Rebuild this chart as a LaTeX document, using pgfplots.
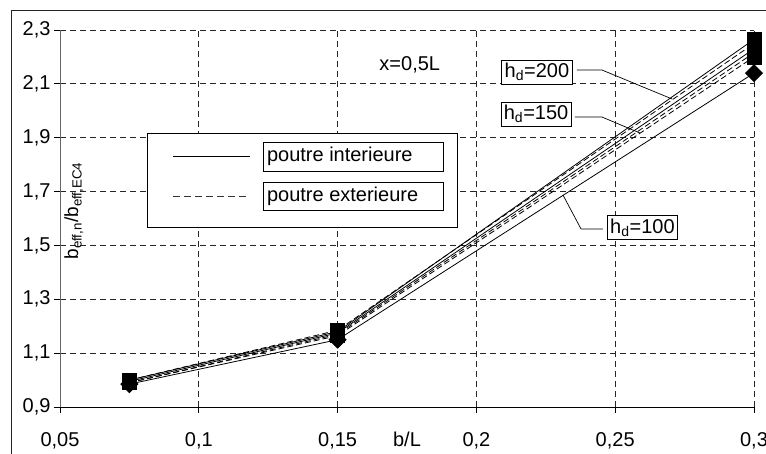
\documentclass[border=0pt]{standalone}
\usepackage{fontspec}
\setmainfont{Liberation Sans}
\usepackage{pgfplots}
\pgfplotsset{compat=1.18}
\newcommand{\bigf}{\fontsize{20}{24}\selectfont}
\begin{document}
\begin{tikzpicture}[x=1pt,y=1pt]
\useasboundingbox (0,0) rectangle (766,454);
\draw[line width=1pt, black!85] (11,443) rectangle (790,-20);
\begin{axis}[
  at={(60pt,47pt)}, anchor=south west,
  scale only axis, width=694pt, height=377pt,
  xmin=0.05, xmax=0.3, ymin=0.9, ymax=2.3,
  xtick={0.05,0.1,0.15,0.2,0.25,0.3},
  ytick={0.9,1.1,1.3,1.5,1.7,1.9,2.1,2.3},
  xticklabels={0{,}05,0{,}1,0{,}15,0{,}2,0{,}25,0{,}3},
  yticklabels={0{,}9,1{,}1,1{,}3,1{,}5,1{,}7,1{,}9,2{,}1,2{,}3},
  axis x line*=bottom, axis y line*=left,
  x axis line style={black, line width=0.8pt, -},
  y axis line style={black!60, line width=1pt, -},
  tick align=outside, major tick length=6pt,
  tick style={black, line width=0.8pt},
  grid=major,
  major grid style={black!85, line width=0.7pt, dash pattern=on 5.5pt off 4.5pt},
  xticklabel style={font=\bigf, yshift=-16pt},
  yticklabel style={font=\bigf},
  clip=false,
]
% hd=200
\addplot[black, line width=0.8pt, mark=square*, mark size=7pt, mark options={solid}] coordinates {(0.075,1.0) (0.15,1.18) (0.3,2.265)};
\addplot[black, line width=0.8pt, dash pattern=on 6pt off 3pt, mark=square*, mark size=7pt, mark options={solid}] coordinates {(0.075,1.0) (0.15,1.185) (0.3,2.25)};
% hd=150
\addplot[black, line width=0.8pt, mark=square*, mark size=7pt, mark options={solid}] coordinates {(0.075,0.995) (0.15,1.175) (0.3,2.23)};
\addplot[black, line width=0.8pt, dash pattern=on 6pt off 3pt, mark=square*, mark size=7pt, mark options={solid}] coordinates {(0.075,0.99) (0.15,1.17) (0.3,2.215)};
% hd=100
\addplot[black, line width=0.8pt, dash pattern=on 6pt off 3pt, mark=square*, mark size=7pt, mark options={solid}] coordinates {(0.075,0.99) (0.15,1.165) (0.3,2.20)};
\addplot[black, line width=0.8pt, mark=square*, mark size=6pt, mark options={solid, rotate=45}] coordinates {(0.075,0.985) (0.15,1.15) (0.3,2.14)};

% legend
\draw[black, line width=0.8pt, fill=white] (axis cs:0.08134,1.5684) rectangle (axis cs:0.193,1.9175);
\draw[black, line width=0.7pt] (axis cs:0.1231,1.776) rectangle (axis cs:0.188,1.884);
\draw[black, line width=0.7pt] (axis cs:0.1231,1.632) rectangle (axis cs:0.188,1.7355);
\draw[black, line width=0.8pt] (axis cs:0.0907,1.830) -- (axis cs:0.1184,1.830);
\draw[black!80, line width=0.8pt, dash pattern=on 7pt off 4pt] (axis cs:0.0907,1.6835) -- (axis cs:0.1184,1.6835);
\node[anchor=west, inner sep=0pt, font=\bigf] at (axis cs:0.1245,1.830) {poutre interieure};
\node[anchor=west, inner sep=0pt, font=\bigf] at (axis cs:0.1245,1.6835) {poutre exterieure};

% annotations
\node[font=\bigf] at (axis cs:0.176,2.17) {x=0,5L};
\draw[black, line width=0.7pt] (axis cs:0.2362,2.1515) -- (axis cs:0.2452,2.1515) -- (axis cs:0.2705,2.0438);
\draw[black, line width=0.7pt] (axis cs:0.2355,1.977) -- (axis cs:0.2452,1.977) -- (axis cs:0.2589,1.9175);
\draw[black, line width=0.7pt] (axis cs:0.2456,1.561) -- (axis cs:0.2377,1.561) -- (axis cs:0.2312,1.687);
\node[draw, fill=white, line width=0.7pt, font=\bigf, inner sep=3pt] at (axis cs:0.2218,2.144) {h\textsubscript{d}=200};
\node[draw, fill=white, line width=0.7pt, font=\bigf, inner sep=3pt] at (axis cs:0.2215,1.988) {h\textsubscript{d}=150};
\node[draw, fill=white, line width=0.7pt, font=\bigf, inner sep=3pt] at (axis cs:0.2598,1.5666) {h\textsubscript{d}=100};

% axis labels
\node[font=\bigf, anchor=base] at (axis cs:0.175,0.9) [yshift=-40pt] {b/L};
\node[rotate=90, font=\fontsize{19}{22}\selectfont] at (axis cs:0.0550,1.628) {b\textsubscript{eff,n}/b\textsubscript{eff,EC4}};
\end{axis}
\end{tikzpicture}
\end{document}
